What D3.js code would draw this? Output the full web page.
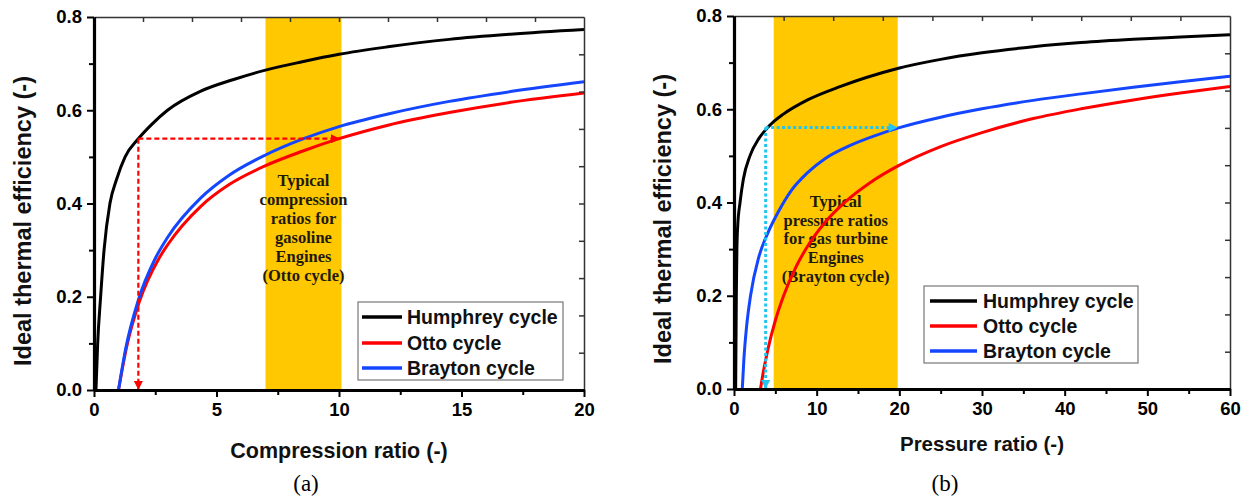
<!DOCTYPE html>
<html><head><meta charset="utf-8">
<script src="https://cdn.jsdelivr.net/npm/d3@7"></script>
<style>
html,body{margin:0;padding:0;background:#fff;}
svg{display:block;}
</style></head>
<body>
<svg id="chart" width="1255" height="496"></svg>
<script>
// ---------- DATA ----------
const seriesNames = ["Humphrey cycle", "Otto cycle", "Brayton cycle"];
const seriesColors = ["#000000", "#ff0000", "#1446ff"];

// Panel (a): efficiency vs compression ratio
const humphreyA_x = [0.08, 0.15, 0.27, 0.41, 0.65, 0.93, 1.27, 1.81, 2.4, 3.0, 4.36, 5.7, 7.0, 8.5, 10.0, 12.0, 14.5, 17.0, 20.0];
const humphreyA_y = [0.0, 0.1, 0.2, 0.3, 0.4, 0.453, 0.5, 0.539, 0.572, 0.600, 0.641, 0.666, 0.686, 0.704, 0.720, 0.736, 0.752, 0.763, 0.773];
const ottoA_x = [1.0, 1.33, 1.85, 2.65, 3.0, 4.36, 5.5, 7.0, 8.5, 10.0, 12.0, 14.5, 17.0, 20.0];
const ottoA_y = [0.0, 0.092, 0.189, 0.282, 0.311, 0.394, 0.44, 0.481, 0.512, 0.539, 0.568, 0.595, 0.617, 0.637];
const braytonA_x = [1.0, 1.29, 1.81, 2.49, 3.0, 4.36, 5.5, 7.0, 8.5, 10.0, 12.0, 14.5, 17.0, 20.0];
const braytonA_y = [0.0, 0.088, 0.193, 0.281, 0.327, 0.412, 0.46, 0.504, 0.538, 0.565, 0.592, 0.619, 0.640, 0.661];

// Panel (b): efficiency vs pressure ratio
const humphreyB_x = [0.2, 0.28, 0.35, 0.45, 0.73, 1.13, 1.93, 3.0, 3.83, 4.83, 5.93, 8.9, 12.9, 16.0, 19.9, 25.0, 30.0, 36.2, 42.0, 48.3, 54.0, 60.0];
const humphreyB_y = [0.0, 0.2, 0.3, 0.35, 0.4, 0.45, 0.5, 0.537, 0.556, 0.574, 0.589, 0.620, 0.649, 0.668, 0.688, 0.707, 0.721, 0.734, 0.743, 0.750, 0.755, 0.760];
const ottoB_x = [3.2, 3.5, 4.1, 5.0, 6.0, 7.5, 8.9, 11.0, 13.7, 16.5, 19.9, 25.0, 30.0, 36.2, 42.0, 48.3, 54.0, 60.0];
const ottoB_y = [0.0, 0.032, 0.085, 0.147, 0.2, 0.262, 0.306, 0.357, 0.405, 0.443, 0.479, 0.52, 0.55, 0.58, 0.601, 0.62, 0.635, 0.649];
const braytonB_x = [1.0, 1.2, 1.5, 2.0, 3.0, 4.1, 5.36, 6.9, 8.9, 11.0, 14.0, 17.0, 19.9, 25.0, 30.0, 36.2, 42.0, 48.3, 54.0, 60.0];
const braytonB_y = [0.0, 0.065, 0.13, 0.2, 0.283, 0.335, 0.38, 0.425, 0.464, 0.494, 0.522, 0.543, 0.560, 0.583, 0.601, 0.619, 0.633, 0.647, 0.659, 0.671];

// Axis ticks
const yMajorTicks = [0.0, 0.2, 0.4, 0.6, 0.8];
const yMinorTicks = [0.1, 0.3, 0.5, 0.7];
const yRightTicks = [0.08, 0.16, 0.24, 0.32, 0.40, 0.48, 0.56, 0.64, 0.72];
const xMajorTicksA = [0, 5, 10, 15, 20];
const xMinorTicksA = [2.5, 7.5, 12.5, 17.5];
const xTopTicksA = [2, 4, 6, 8, 10, 12, 14, 16, 18];
const xMajorTicksB = [0, 10, 20, 30, 40, 50, 60];
const xMinorTicksB = [5, 15, 25, 35, 45, 55];
const xTopTicksB = [6, 12, 18, 24, 30, 36, 42, 48, 54];

// Highlighted ranges
const bandA = [7.0, 10.1];
const bandB = [4.8, 19.8];

// Guide arrows: [cornerX, cornerY, endX]
const guideA = [1.81, 0.539, 10.04];
const guideB = [3.83, 0.561, 19.8];

// Texts
const bandTextA = ["Typical", "compression", "ratios for", "gasoline", "Engines", "(Otto cycle)"];
const bandTextB = ["Typical", "pressure ratios", "for gas turbine", "Engines", "(Brayton cycle)"];
const yTitle = "Ideal thermal efficiency (-)";
const xTitleA = "Compression ratio (-)";
const xTitleB = "Pressure ratio (-)";

// ---------- DRAWING ----------
const svg = d3.select("#chart");
svg.append("rect").attr("width", 1255).attr("height", 496).attr("fill", "#fff");

const zip = (xs, ys) => xs.map((x, i) => [x, ys[i]]);

const defs = svg.append("defs");
function marker(id, color) {
  defs.append("marker").attr("id", id)
    .attr("viewBox", "0 0 10 10").attr("refX", 10).attr("refY", 5)
    .attr("markerWidth", 11).attr("markerHeight", 9).attr("markerUnits", "userSpaceOnUse")
    .attr("orient", "auto")
    .append("path").attr("d", "M0,0 L10,5 L0,10 Z").attr("fill", color);
}
marker("arrRed", "#ff0000");
marker("arrCyan", "#22c4f0");

const panels = [
  { id: "a", xDomain: [0, 20], xRange: [94, 584], yRange: [390, 17],
    series: [zip(humphreyA_x, humphreyA_y), zip(ottoA_x, ottoA_y), zip(braytonA_x, braytonA_y)],
    xMajor: xMajorTicksA, xMinor: xMinorTicksA, xTop: xTopTicksA,
    band: bandA, bandText: bandTextA, bandTextY: 182, bandLine: 19,
    guide: guideA, guideColor: "#ff0000", guideMarker: "arrRed", guideDash: "5,3", guideWidth: 2.2,
    xTitle: xTitleA, xTitleSize: 21.5, xTitleY: 458, yTitleX: 31, yTitleY: 221, label: "(a)", labelX: 306,
    legend: { x: 358, y: 302, w: 205, h: 78, lineX1: 362, lineX2: 402, textX: 407, rows: [317, 343, 368] } },
  { id: "b", xDomain: [0, 60], xRange: [734, 1230], yRange: [389, 16],
    series: [zip(humphreyB_x, humphreyB_y), zip(ottoB_x, ottoB_y), zip(braytonB_x, braytonB_y)],
    xMajor: xMajorTicksB, xMinor: xMinorTicksB, xTop: xTopTicksB,
    band: bandB, bandText: bandTextB, bandTextY: 203, bandLine: 18.8,
    guide: guideB, guideColor: "#22c4f0", guideMarker: "arrCyan", guideDash: "3,2.5", guideWidth: 3,
    xTitle: xTitleB, xTitleSize: 20.5, xTitleY: 451, yTitleX: 671, yTitleY: 219, label: "(b)", labelX: 945,
    legend: { x: 924, y: 286, w: 214, h: 77, lineX1: 930, lineX2: 977, textX: 983, rows: [301, 326, 351] } }
];

panels.forEach(p => {
  const x = d3.scaleLinear().domain(p.xDomain).range(p.xRange);
  const y = d3.scaleLinear().domain([0, 0.8]).range(p.yRange);
  const g = svg.append("g");
  const [x0, x1] = p.xRange, [y0, y1] = p.yRange;

  defs.append("clipPath").attr("id", "clip" + p.id)
    .append("rect").attr("x", x0).attr("y", y1).attr("width", x1 - x0).attr("height", y0 - y1);

  // band
  g.append("rect").attr("x", x(p.band[0])).attr("y", y(0.8))
    .attr("width", x(p.band[1]) - x(p.band[0])).attr("height", y(0) - y(0.8))
    .attr("fill", "#ffc800");

  // band text
  const cx = (x(p.band[0]) + x(p.band[1])) / 2;
  g.append("g").selectAll("text").data(p.bandText).join("text")
    .attr("x", cx).attr("y", (d, i) => p.bandTextY + i * p.bandLine)
    .attr("text-anchor", "middle").attr("dominant-baseline", "middle")
    .attr("font-family", "'Liberation Serif','Times New Roman',serif")
    .attr("font-weight", "bold").attr("font-size", 16.5).attr("fill", "#1e1a10")
    .text(d => d);

  // curves
  const line = d3.line().x(d => x(d[0])).y(d => y(d[1])).curve(d3.curveMonotoneX);
  const cg = g.append("g").attr("clip-path", `url(#clip${p.id})`);
  p.series.forEach((s, i) => {
    cg.append("path").datum(s).attr("d", line).attr("fill", "none")
      .attr("stroke", seriesColors[i]).attr("stroke-width", 3).attr("stroke-linejoin", "round");
  });

  // guide arrows
  const [gx, gy, ex] = p.guide;
  g.append("line").attr("x1", x(gx)).attr("y1", y(gy)).attr("x2", x(ex)).attr("y2", y(gy))
    .attr("stroke", p.guideColor).attr("stroke-width", p.guideWidth).attr("stroke-dasharray", p.guideDash)
    .attr("marker-end", `url(#${p.guideMarker})`);
  g.append("line").attr("x1", x(gx)).attr("y1", y(gy)).attr("x2", x(gx)).attr("y2", y(0))
    .attr("stroke", p.guideColor).attr("stroke-width", p.guideWidth).attr("stroke-dasharray", p.guideDash)
    .attr("marker-end", `url(#${p.guideMarker})`);

  // legend
  const L = p.legend;
  const lg = g.append("g");
  lg.append("rect").attr("x", L.x).attr("y", L.y).attr("width", L.w).attr("height", L.h)
    .attr("fill", "#fff").attr("stroke", "#777").attr("stroke-width", 1.2);
  seriesNames.forEach((name, i) => {
    lg.append("line").attr("x1", L.lineX1).attr("x2", L.lineX2).attr("y1", L.rows[i]).attr("y2", L.rows[i])
      .attr("stroke", seriesColors[i]).attr("stroke-width", 3.5);
    lg.append("text").attr("x", L.textX).attr("y", L.rows[i]).attr("dominant-baseline", "central")
      .attr("font-family", "'Liberation Sans',Arial,sans-serif").attr("font-weight", "bold")
      .attr("font-size", 19.5).attr("fill", "#111").text(name);
  });

  // axes
  const fontTick = "'Liberation Sans',Arial,sans-serif";
  const styleAxis = (sel, width) => {
    sel.select(".domain").attr("stroke", "#000").attr("stroke-width", width);
    sel.selectAll(".tick line").attr("stroke", "#000").attr("stroke-width", 2);
    sel.selectAll(".tick text").attr("font-family", fontTick).attr("font-weight", "bold")
      .attr("font-size", 18.5).attr("fill", "#000");
  };
  // top and right (thin, inward ticks)
  const top = g.append("g").attr("transform", `translate(0,${y1})`)
    .call(d3.axisTop(x).tickValues(p.xTop).tickSize(-5).tickSizeOuter(0).tickFormat(""));
  styleAxis(top, 1.5);
  top.select(".domain").attr("stroke", "#333");
  top.selectAll(".tick line").attr("stroke", "#333").attr("stroke-width", 1.5);
  const right = g.append("g").attr("transform", `translate(${x1},0)`)
    .call(d3.axisRight(y).tickValues(yRightTicks).tickSize(-5).tickSizeOuter(0).tickFormat(""));
  styleAxis(right, 1.5);
  right.select(".domain").attr("stroke", "#333");
  right.selectAll(".tick line").attr("stroke", "#333").attr("stroke-width", 1.5);

  // minor ticks
  const bMin = g.append("g").attr("transform", `translate(0,${y0})`)
    .call(d3.axisBottom(x).tickValues(p.xMinor).tickSize(5).tickSizeOuter(0).tickFormat(""));
  styleAxis(bMin, 3);
  const lMin = g.append("g").attr("transform", `translate(${x0},0)`)
    .call(d3.axisLeft(y).tickValues(yMinorTicks).tickSize(5).tickSizeOuter(0).tickFormat(""));
  styleAxis(lMin, 3);
  // major
  const bottom = g.append("g").attr("transform", `translate(0,${y0})`)
    .call(d3.axisBottom(x).tickValues(p.xMajor).tickSize(7).tickSizeOuter(0).tickPadding(6).tickFormat(d3.format("d")));
  styleAxis(bottom, 3.2);
  const left = g.append("g").attr("transform", `translate(${x0},0)`)
    .call(d3.axisLeft(y).tickValues(yMajorTicks).tickSize(7).tickSizeOuter(0).tickPadding(5).tickFormat(d3.format(".1f")));
  styleAxis(left, 3.2);

  // titles
  g.append("text").attr("x", (x0 + x1) / 2).attr("y", p.xTitleY).attr("text-anchor", "middle")
    .attr("font-family", fontTick).attr("font-weight", "bold").attr("font-size", p.xTitleSize).attr("fill", "#111")
    .text(p.xTitle);
  g.append("text").attr("transform", `translate(${p.yTitleX},${p.yTitleY}) rotate(-90)`)
    .attr("text-anchor", "middle")
    .attr("font-family", fontTick).attr("font-weight", "bold").attr("font-size", 23.5).attr("fill", "#111")
    .text(yTitle);
  g.append("text").attr("x", p.labelX).attr("y", 491).attr("text-anchor", "middle")
    .attr("font-family", "'Liberation Serif','Times New Roman',serif").attr("font-size", 23).attr("fill", "#000")
    .text(p.label);
});
</script>
</body></html>
